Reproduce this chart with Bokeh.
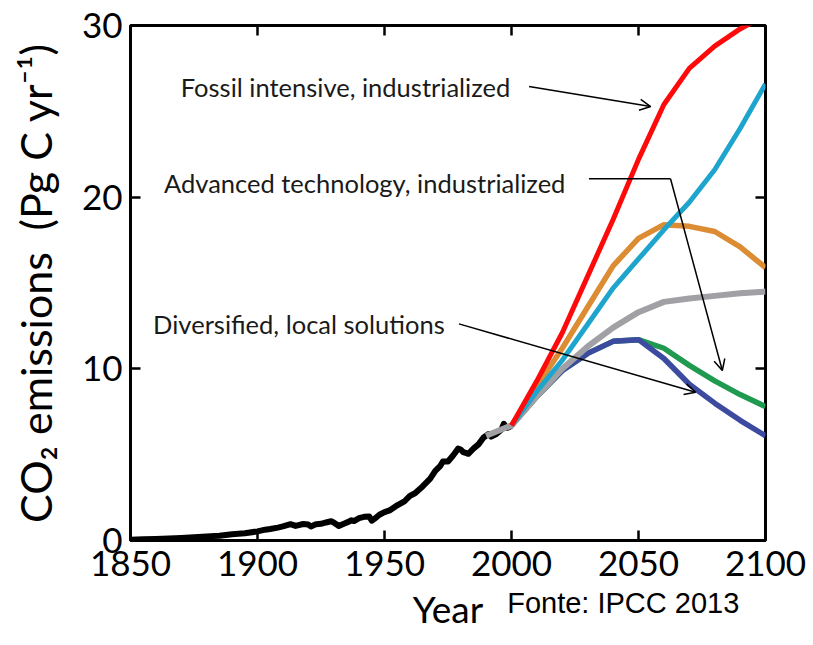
from bokeh.plotting import figure
from bokeh.models import (Range1d, LinearAxis, FixedTicker, Arrow, OpenHead,
                          Label, CustomJSTickFormatter)
from bokeh.embed import file_html
from bokeh.resources import INLINE

# ---------------- data ----------------
hist_years = [1850, 1855, 1860, 1865, 1870, 1875, 1880, 1885, 1890, 1895,
              1900, 1903, 1905, 1908, 1910, 1913, 1915, 1918, 1920, 1921,
              1923, 1925, 1927, 1929, 1930, 1932, 1934, 1936, 1937, 1938,
              1940, 1942, 1944, 1945, 1946, 1948, 1950, 1952, 1955, 1958,
              1960, 1962, 1965, 1968, 1970, 1972, 1973, 1974, 1975, 1977,
              1979, 1980, 1981, 1982, 1983, 1985, 1987, 1989, 1990, 1991,
              1992, 1994, 1996, 1997, 1998, 1999, 2000]
hist_vals = [0.05, 0.07, 0.09, 0.12, 0.15, 0.19, 0.24, 0.28, 0.36, 0.42,
             0.53, 0.63, 0.67, 0.75, 0.82, 0.95, 0.85, 0.96, 0.93, 0.82,
             0.95, 0.97, 1.05, 1.12, 1.05, 0.85, 0.98, 1.10, 1.18, 1.13,
             1.30, 1.38, 1.40, 1.16, 1.25, 1.50, 1.65, 1.75, 2.05, 2.30,
             2.60, 2.75, 3.15, 3.60, 4.05, 4.35, 4.60, 4.60, 4.60, 4.95,
             5.35, 5.30, 5.15, 5.10, 5.05, 5.35, 5.60, 6.00, 6.10, 6.20,
             6.05, 6.20, 6.45, 6.80, 6.55, 6.60, 6.70]

scen_years = [2000, 2010, 2020, 2030, 2040, 2050, 2060, 2070, 2080, 2090, 2100]
fossil_vals   = [6.7, 9.3, 12.1, 15.4, 18.7, 22.2, 25.4, 27.5, 28.8, 29.8, 30.6]
orange_vals   = [6.7, 9.0, 11.2, 13.6, 16.0, 17.6, 18.4, 18.3, 18.0, 17.1, 15.9]
cyan_vals     = [6.7, 8.7, 10.5, 12.6, 14.7, 16.4, 18.1, 19.7, 21.6, 24.0, 26.6]
blue_vals     = [6.7, 8.4, 9.9, 10.9, 11.6, 11.7, 10.6, 9.1, 8.0, 7.0, 6.1]
green_vals    = [6.7, 8.4, 9.9, 10.9, 11.6, 11.7, 11.2, 10.2, 9.3, 8.5, 7.8]
gray_years = [1990, 2000, 2010, 2020, 2030, 2040, 2050, 2060, 2070, 2080, 2090, 2100]
gray_vals  = [6.1, 6.7, 8.4, 10.0, 11.3, 12.4, 13.3, 13.9, 14.1, 14.25, 14.4, 14.5]

x_ticks = [1850, 1900, 1950, 2000, 2050, 2100]
y_ticks = [0, 10, 20, 30]

label_fossil = "Fossil intensive, industrialized"
label_adv = "Advanced technology, industrialized"
label_div = "Diversified, local solutions"
source_text = "Fonte: IPCC 2013"
source_center_year = 2044

FONT = "Lato"

p = figure(width=813, height=645, x_range=Range1d(1850, 2100), y_range=Range1d(0, 30),
           output_backend="svg", toolbar_location=None,
           min_border_left=130, min_border_right=48, min_border_top=25, min_border_bottom=105)
p.grid.visible = False
p.outline_line_color = "black"
p.outline_line_width = 3
p.background_fill_color = "white"
p.border_fill_color = "white"

bottom = p.below[0]
left = p.left[0]
bottom.ticker = FixedTicker(ticks=x_ticks)
left.ticker = FixedTicker(ticks=y_ticks)

top = LinearAxis(ticker=FixedTicker(ticks=x_ticks), formatter=CustomJSTickFormatter(code="return ''"))
right = LinearAxis(ticker=FixedTicker(ticks=y_ticks), formatter=CustomJSTickFormatter(code="return ''"))
p.add_layout(top, "above")
p.add_layout(right, "right")

for ax in [bottom, left, top, right]:
    ax.axis_line_color = None
    ax.major_tick_in = 10
    ax.major_tick_out = 0
    ax.minor_tick_in = 0
    ax.minor_tick_out = 0
    ax.major_tick_line_width = 2.5
    ax.major_tick_line_color = "black"
    ax.major_label_text_font = FONT
    ax.major_label_text_font_size = "35px"
    ax.major_label_text_color = "black"
    ax.major_label_standoff = 8

bottom.major_label_standoff = 10
top.major_label_text_font_size = "1px"
right.major_label_text_font_size = "1px"
top.major_label_standoff = 0
right.major_label_standoff = 0

# second bottom axis: carries the source note (as a tick label) and the "Year" title
src_axis = LinearAxis(ticker=FixedTicker(ticks=[source_center_year]),
                      major_label_overrides={source_center_year: source_text})
src_axis.axis_line_color = None
src_axis.major_tick_line_color = None
src_axis.major_tick_in = 0
src_axis.major_tick_out = 0
src_axis.minor_tick_in = 0
src_axis.minor_tick_out = 0
src_axis.major_label_standoff = 8
src_axis.major_label_text_font = "Liberation Sans"
src_axis.major_label_text_font_size = "29px"
src_axis.major_label_text_color = "black"
src_axis.axis_label = "Year"
src_axis.axis_label_text_font = FONT
src_axis.axis_label_text_font_size = "37px"
src_axis.axis_label_text_font_style = "normal"
src_axis.axis_label_text_color = "black"
src_axis.axis_label_standoff = -36
p.add_layout(src_axis, "below")

left.axis_label = "CO\u2082 emissions\u2002(Pg C yr\u207b\u00b9)"
left.axis_label_text_font = FONT
left.axis_label_text_font_size = "43px"
left.axis_label_text_font_style = "normal"
left.axis_label_text_color = "black"
left.axis_label_standoff = 18

# ---------------- lines ----------------
p.line(hist_years, hist_vals, line_color="black", line_width=6, line_join="round")
p.line(scen_years, green_vals, line_color="#1f9a50", line_width=5.5)
p.line(scen_years, blue_vals, line_color="#3c4ba0", line_width=5.5)
p.line(gray_years, gray_vals, line_color="#a0a0a5", line_width=6)
p.line(scen_years, orange_vals, line_color="#dc8c32", line_width=5.5)
p.line(scen_years, cyan_vals, line_color="#1ea5cd", line_width=5)
p.line(scen_years, fossil_vals, line_color="#ff0a0a", line_width=5)

# ---------------- annotations ----------------
txt_color = "#1a1a1a"
for x, y, t in [(1869.8, 26.4, label_fossil), (1863.2, 20.85, label_adv), (1858.9, 12.64, label_div)]:
    p.add_layout(Label(x=x, y=y, text=t, text_font=FONT, text_font_size="25.5px",
                       text_color=txt_color, text_baseline="middle", text_align="left"))

def head():
    return OpenHead(size=11, line_width=1.5, line_color="black")

p.add_layout(Arrow(end=head(), x_start=2006.9, y_start=26.44, x_end=2054.8, y_end=25.28,
                   line_width=1.5, line_color="black"))
p.add_layout(Arrow(end=None, x_start=2030.5, y_start=21.07, x_end=2062.6, y_end=21.07,
                   line_width=1.5, line_color="black"))
p.add_layout(Arrow(end=head(), x_start=2062.6, y_start=21.07, x_end=2083.0, y_end=9.9,
                   line_width=1.5, line_color="black"))
p.add_layout(Arrow(end=head(), x_start=1979.3, y_start=12.62, x_end=2072.5, y_end=8.64,
                   line_width=1.5, line_color="black"))

open("out.html", "w").write(file_html(p, INLINE))
